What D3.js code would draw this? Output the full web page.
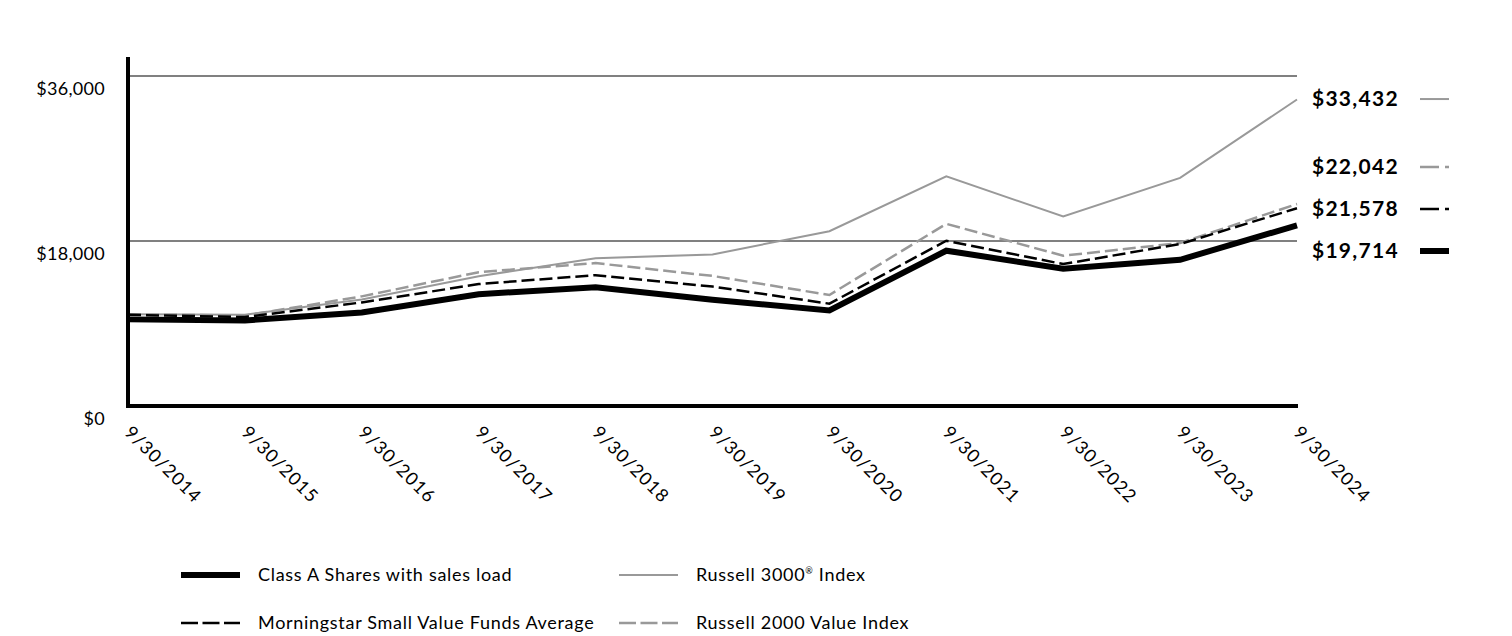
<!DOCTYPE html>
<html><head><meta charset="utf-8">
<script src="https://cdn.jsdelivr.net/npm/d3@7"></script>
<style>body{margin:0;background:#fff;} text{font-family:Lato,"Open Sans",sans-serif;}</style>
</head><body><svg id="c" width="1512" height="636"></svg>
<script>
const dates = ["9/30/2014","9/30/2015","9/30/2016","9/30/2017","9/30/2018","9/30/2019","9/30/2020","9/30/2021","9/30/2022","9/30/2023","9/30/2024"];
const classA      = [9450, 9330, 10200, 12200, 12950, 11580, 10430, 16940, 14980, 15950, 19714];
const morningstar = [9950, 9700, 11300, 13300, 14270, 13030, 11160, 18030, 15480, 17670, 21578];
const russell3000 = [10000, 9950, 11630, 14160, 16130, 16540, 19070, 25050, 20670, 24880, 33432];
const russell2000v= [10000, 9860, 11960, 14600, 15590, 14190, 12110, 19870, 16390, 17780, 22042];
const yTicks = [0, 18000, 36000];
const seriesNames = ["Class A Shares with sales load","Russell 3000® Index","Morningstar Small Value Funds Average","Russell 2000 Value Index"];

const svg = d3.select("#c");
const x = d3.scalePoint().domain(dates).range([128, 1297]);
const y = d3.scaleLinear().domain([0, 36000]).range([406, 76]);

const styles = {
  classA: {stroke:"#000", width:6, dash:null},
  r3000: {stroke:"#999", width:2, dash:null},
  morn: {stroke:"#000", width:2.5, dash:"13,5"},
  r2000: {stroke:"#999", width:2.5, dash:"13,5"}
};
const series = [
  {key:"r3000", values:russell3000, name:seriesNames[1]},
  {key:"r2000", values:russell2000v, name:seriesNames[3]},
  {key:"morn", values:morningstar, name:seriesNames[2]},
  {key:"classA", values:classA, name:seriesNames[0]}
];

// gridlines
svg.append("g").selectAll("line").data(yTicks.filter(d=>d>0)).join("line")
  .attr("x1",128).attr("x2",1297).attr("y1",d=>y(d)).attr("y2",d=>y(d))
  .attr("stroke","#808080").attr("stroke-width",2);

// y tick labels
svg.append("g").selectAll("text").data(yTicks).join("text")
  .attr("x",105).attr("y",d=>y(d)+13).attr("dy","0.35em").attr("text-anchor","end")
  .attr("font-size",18).attr("letter-spacing",0.3).attr("fill","#000").text(d=>"$"+d3.format(",")(d));

// lines
const line = d3.line().x((d,i)=>x(dates[i])).y(d=>y(d));
series.forEach(s=>{
  const st = styles[s.key];
  svg.append("path").datum(s.values).attr("d",line).attr("fill","none")
    .attr("stroke",st.stroke).attr("stroke-width",st.width)
    .attr("stroke-dasharray",st.dash).attr("stroke-linejoin","miter");
});

// axes
svg.append("line").attr("x1",128).attr("x2",128).attr("y1",57).attr("y2",406).attr("stroke","#000").attr("stroke-width",4);
svg.append("line").attr("x1",126).attr("x2",1298).attr("y1",406).attr("y2",406).attr("stroke","#000").attr("stroke-width",4);

// x labels
svg.append("g").selectAll("text").data(dates).join("text")
  .attr("transform",d=>`translate(${x(d)},${429}) rotate(45)`)
  .attr("dy","0.35em").attr("font-size",18).attr("letter-spacing",1.2).attr("fill","#000").text(d=>d);

// end labels with collision spreading
const ends = series.map(s=>({s, v:s.values[s.values.length-1], y:y(s.values[s.values.length-1])}));
ends.sort((a,b)=>a.y-b.y);
const gap = 42;
let clusters = ends.map(e=>({items:[e], pos:e.y}));
let changed = true;
while(changed){
  changed=false;
  for(let i=0;i<clusters.length-1;i++){
    const a=clusters[i], b=clusters[i+1];
    const aBottom = a.pos + (a.items.length-1)*gap/2;
    const bTop = b.pos - (b.items.length-1)*gap/2;
    if(bTop - aBottom < gap){
      const items=a.items.concat(b.items);
      const mean=d3.mean(items,d=>d.y);
      clusters.splice(i,2,{items,pos:mean});
      changed=true; break;
    }
  }
}
clusters.forEach(c=>{
  const off = c.items.length>1 ? -3.5 : -0.5;
  c.items.forEach((e,i)=>{ e.ly = c.pos - (c.items.length-1)*gap/2 + i*gap + off; });
});
const eg = svg.append("g");
ends.forEach(e=>{
  eg.append("text").attr("x",1399).attr("y",e.ly).attr("dy","0.35em").attr("text-anchor","end")
    .attr("font-size",21).attr("font-weight","bold").attr("letter-spacing",1.3).attr("fill","#000")
    .text("$"+d3.format(",")(e.v));
  const st=styles[e.s.key];
  eg.append("line").attr("x1",1420).attr("x2",1449).attr("y1",e.ly).attr("y2",e.ly)
    .attr("stroke",st.stroke).attr("stroke-width",st.width)
    .attr("stroke-dasharray",st.dash?"19,6":null);
});

// legend
const legendItems = [
  {key:"classA", name:seriesNames[0], lx:181, ly:575},
  {key:"r3000", name:seriesNames[1], lx:619, ly:575},
  {key:"morn", name:seriesNames[2], lx:181, ly:623},
  {key:"r2000", name:seriesNames[3], lx:619, ly:623}
];
const lg = svg.append("g");
legendItems.forEach(it=>{
  const st=styles[it.key];
  lg.append("line").attr("x1",it.lx).attr("x2",it.lx+59).attr("y1",it.ly).attr("y2",it.ly)
    .attr("stroke",st.stroke).attr("stroke-width",st.width)
    .attr("stroke-dasharray",st.dash?"17,4.5":null);
  const t = lg.append("text").attr("x",it.lx+77).attr("y",it.ly).attr("dy","0.35em")
    .attr("font-size",18).attr("letter-spacing",0.7).attr("fill","#000");
  if(it.name.includes("®")){
    const parts = it.name.split("®");
    t.append("tspan").text(parts[0]);
    t.append("tspan").attr("font-size","9px").attr("dy","-7px").text("®");
    t.append("tspan").attr("dy","7px").text(parts[1]);
  } else t.text(it.name);
});
</script></body></html>
